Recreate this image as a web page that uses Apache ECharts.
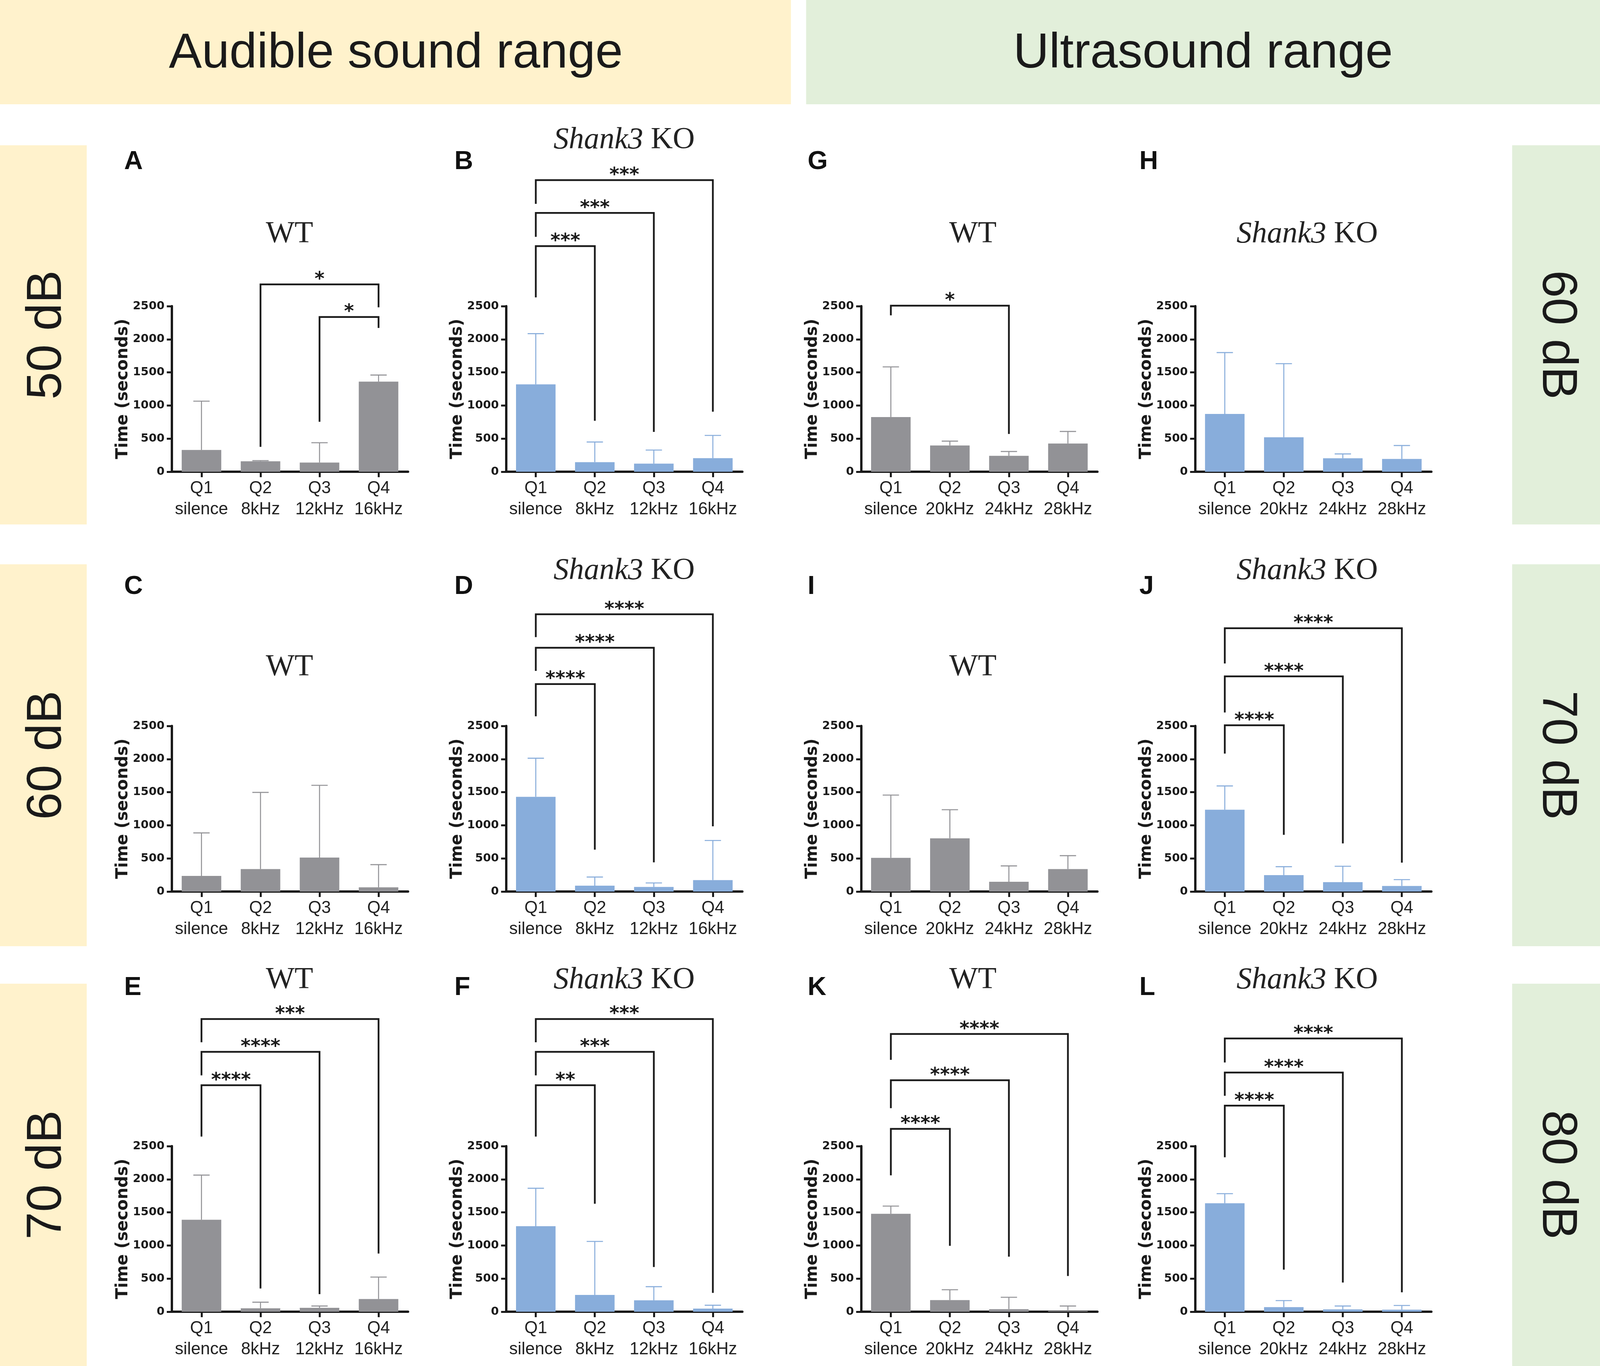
<!DOCTYPE html>
<html><head><meta charset="utf-8">
<script src="https://cdn.jsdelivr.net/npm/echarts@6/dist/echarts.min.js"></script>
<style>html,body{margin:0;padding:0;background:#fff;overflow:hidden}#c{width:100vw;height:100vh}</style>
</head><body><div id="c"></div>
<script>
// ---------- categories & axis ----------
const catAudible = ['Q1\nsilence', 'Q2\n8kHz', 'Q3\n12kHz', 'Q4\n16kHz'];
const catUltra = ['Q1\nsilence', 'Q2\n20kHz', 'Q3\n24kHz', 'Q4\n28kHz'];
const yMin = 0, yMax = 2500, yStep = 500;
const yAxisTitle = 'Time (seconds)';

// ---------- bar means (seconds) ----------
const meanA = [328, 157, 139, 1361];
const meanB = [1320, 145, 122, 205];
const meanC = [236, 339, 513, 63];
const meanD = [1430, 88, 69, 173];
const meanE = [1388, 51, 59, 191];
const meanF = [1291, 254, 172, 47];
const meanG = [826, 397, 240, 426];
const meanH = [872, 520, 203, 193];
const meanI = [509, 804, 147, 339];
const meanJ = [1235, 248, 141, 84];
const meanK = [1478, 176, 39, 10];
const meanL = [1638, 70, 35, 31];

// ---------- upper error (SD) ----------
const sdA = [738, 11, 299, 99];
const sdB = [765, 304, 205, 343];
const sdC = [649, 1158, 1091, 343];
const sdD = [583, 131, 61, 598];
const sdE = [675, 93, 27, 332];
const sdF = [573, 807, 206, 51];
const sdG = [757, 65, 66, 182];
const sdH = [927, 1112, 66, 203];
const sdI = [947, 431, 240, 203];
const sdJ = [359, 127, 241, 96];
const sdK = [117, 156, 179, 76];
const sdL = [144, 98, 51, 63];

// ---------- significance brackets: [from, to, level, leg-from end, leg-to end, label] ----------
const sigA = [[1, 3, 2828, 376, 2482, '*'], [2, 3, 2336, 755, 2172, '*']];
const sigB = [[0, 1, 3406, 2633, 769, '***'], [0, 2, 3908, 3546, 601, '***'], [0, 3, 4403, 4045, 906, '***']];
const sigC = [];
const sigD = [[0, 1, 3133, 2646, 633, '****'], [0, 2, 3681, 3332, 441, '****'], [0, 3, 4187, 3842, 985, '****']];
const sigE = [[0, 1, 3420, 2644, 351, '****'], [0, 2, 3924, 3569, 265, '****'], [0, 3, 4419, 4068, 878, '***']];
const sigF = [[0, 1, 3420, 2644, 1630, '**'], [0, 2, 3924, 3569, 675, '***'], [0, 3, 4419, 4068, 285, '***']];
const sigG = [[0, 2, 2507, 2362, 571, '*']];
const sigH = [];
const sigI = [];
const sigJ = [[0, 1, 2511, 2083, 856, '****'], [0, 2, 3249, 2703, 726, '****'], [0, 3, 3976, 3444, 436, '****']];
const sigK = [[0, 1, 2761, 2059, 995, '****'], [0, 2, 3495, 3073, 831, '****'], [0, 3, 4193, 3803, 540, '****']];
const sigL = [[0, 1, 3112, 2332, 636, '****'], [0, 2, 3612, 3261, 441, '****'], [0, 3, 4126, 3764, 293, '****']];

// ---------- texts ----------
const headerLeft = 'Audible sound range';
const headerRight = 'Ultrasound range';
const sideLeft = ['50 dB', '60 dB', '70 dB'];
const sideRight = ['60 dB', '70 dB', '80 dB'];

// ---------- colours ----------
const GRAY = '#929296';
const BLUE = '#88ADDB';
const INK = '#1a1a1a';

// ---------- panel table ----------
const panels = [
  { L: 'A', row: 0, col: 0, t: 'WT', m: meanA, s: sdA, g: sigA },
  { L: 'B', row: 0, col: 1, t: 'KO', m: meanB, s: sdB, g: sigB },
  { L: 'G', row: 0, col: 2, t: 'WT', m: meanG, s: sdG, g: sigG },
  { L: 'H', row: 0, col: 3, t: 'KO', m: meanH, s: sdH, g: sigH },
  { L: 'C', row: 1, col: 0, t: 'WT', m: meanC, s: sdC, g: sigC },
  { L: 'D', row: 1, col: 1, t: 'KO', m: meanD, s: sdD, g: sigD },
  { L: 'I', row: 1, col: 2, t: 'WT', m: meanI, s: sdI, g: sigI },
  { L: 'J', row: 1, col: 3, t: 'KO', m: meanJ, s: sdJ, g: sigJ },
  { L: 'E', row: 2, col: 0, t: 'WT', m: meanE, s: sdE, g: sigE },
  { L: 'F', row: 2, col: 1, t: 'KO', m: meanF, s: sdF, g: sigF },
  { L: 'K', row: 2, col: 2, t: 'WT', m: meanK, s: sdK, g: sigK },
  { L: 'L', row: 2, col: 3, t: 'KO', m: meanL, s: sdL, g: sigL }
];

// ---------- layout (designed for 4317 x 3498, scaled to the actual viewport) ----------
const BASE_W = 4317, BASE_H = 3498;
const SX = (window.innerWidth || BASE_W) / BASE_W;
const SY = (window.innerHeight || BASE_H) / BASE_H;
const FS = (SX + SY) / 2;
const X = v => v * SX, Y = v => v * SY, F = v => Math.round(v * FS * 10) / 10;

const gridLeft = [464, 1366, 2324, 3225];
const gridTop = [784, 1859, 2935];
const gridW = 637, gridH = 424;
const titleX = [781, 1684, 2625, 3527];
const titleY = [[600, 359, 600, 600], [1709, 1462, 1709, 1462], [2510, 2510, 2510, 2510]];
const letterX = [335, 1226, 2179, 3074];
const letterY = [415, 1503, 2530];

const chart = echarts.init(document.getElementById('c'), null, { renderer: 'canvas' });

const grids = [], xAxes = [], yAxes = [], series = [], graphics = [];
const sansBig = F(130) + 'px "Liberation Sans", Arial';

// background bands + headers
graphics.push({ type: 'rect', shape: { x: 0, y: 0, width: X(2134), height: Y(267) }, style: { fill: '#FFF2CC' }, z: -10 });
graphics.push({ type: 'rect', shape: { x: X(2175), y: 0, width: X(2142), height: Y(267) }, style: { fill: '#E2EFDA' }, z: -10 });
graphics.push({ type: 'text', x: X(1068), y: Y(138), style: { text: headerLeft, font: sansBig, fill: INK, align: 'center', verticalAlign: 'middle' } });
graphics.push({ type: 'text', x: X(3246), y: Y(138), style: { text: headerRight, font: sansBig, fill: INK, align: 'center', verticalAlign: 'middle' } });
const bandY = [[372, 1343], [1445, 2423], [2519, 3498]];
bandY.forEach((b, r) => {
  graphics.push({ type: 'rect', shape: { x: 0, y: Y(b[0]), width: X(234), height: Y(b[1] - b[0]) }, style: { fill: '#FFF2CC' }, z: -10 });
  graphics.push({ type: 'rect', shape: { x: X(4080), y: Y(b[0]), width: X(237) + 2, height: Y(b[1] - b[0]) }, style: { fill: '#E2EFDA' }, z: -10 });
  const cy = Y((b[0] + b[1]) / 2);
  graphics.push({ type: 'text', x: X(128), y: cy, rotation: Math.PI / 2, style: { text: sideLeft[r], font: sansBig, fill: INK, align: 'center', verticalAlign: 'middle' } });
  graphics.push({ type: 'text', x: X(4200), y: cy, rotation: -Math.PI / 2, style: { text: sideRight[r], font: sansBig, fill: INK, align: 'center', verticalAlign: 'middle' } });
});

panels.forEach((p, k) => {
  const color = (p.col % 2 === 0) ? GRAY : BLUE;
  const cats = p.col < 2 ? catAudible : catUltra;
  grids.push({ left: X(gridLeft[p.col]), top: Y(gridTop[p.row]), width: X(gridW), height: Y(gridH), containLabel: false });
  xAxes.push({
    gridIndex: k, type: 'category', data: cats, boundaryGap: true,
    axisLine: { show: true, lineStyle: { color: INK, width: 6 } },
    axisTick: { show: true, alignWithLabel: true, length: Y(14), lineStyle: { color: INK, width: 5 } },
    axisLabel: { margin: Y(16), fontFamily: '"Liberation Sans", Arial', fontSize: F(45), lineHeight: Y(54), color: '#222', interval: 0 }
  });
  yAxes.push({
    gridIndex: k, type: 'value', min: yMin, max: yMax, interval: yStep,
    splitLine: { show: false },
    axisLine: { show: true, lineStyle: { color: INK, width: 6 } },
    axisTick: { show: true, length: X(14), lineStyle: { color: INK, width: 5 } },
    axisLabel: { margin: X(20), fontFamily: '"DejaVu Sans"', fontWeight: 'bold', fontSize: F(30), color: INK, formatter: v => String(v) },
    name: yAxisTitle, nameLocation: 'middle', nameGap: X(104),
    nameTextStyle: { fontFamily: '"DejaVu Sans"', fontWeight: 'bold', fontSize: F(43), color: INK }
  });
  series.push({
    type: 'bar', xAxisIndex: k, yAxisIndex: k, data: p.m, barWidth: '67%',
    itemStyle: { color: color }, silent: true, z: 2
  });
  series.push({
    type: 'custom', xAxisIndex: k, yAxisIndex: k, z: 3, clip: false, silent: true,
    encode: { x: 0, y: 1 },
    data: p.m.map((v, i) => [i, v, p.s[i]]),
    renderItem: (params, api) => {
      const i = api.value(0), v = api.value(1), s = api.value(2);
      const a = api.coord([i, v]), b = api.coord([i, v + s]);
      const st = { stroke: color, lineWidth: 2.6 };
      return { type: 'group', children: [
        { type: 'line', shape: { x1: a[0], y1: a[1], x2: b[0], y2: b[1] }, style: st },
        { type: 'line', shape: { x1: b[0] - X(22), y1: b[1], x2: b[0] + X(22), y2: b[1] }, style: st }
      ] };
    }
  });
  if (p.g.length) {
    const sig = p.g;
    series.push({
      type: 'custom', xAxisIndex: k, yAxisIndex: k, z: 4, clip: false, silent: true,
      encode: { x: 0, y: 2 },
      data: sig.map(s => s.slice(0, 5)),
      renderItem: (params, api) => {
        const a = api.value(0), b = api.value(1), lv = api.value(2), la = api.value(3), lb = api.value(4);
        const pA = api.coord([a, lv]), pB = api.coord([b, lv]);
        const yA = api.coord([a, la])[1], yB = api.coord([b, lb])[1];
        return { type: 'group', children: [
          { type: 'polyline', shape: { points: [[pA[0], yA], [pA[0], pA[1]], [pB[0], pB[1]], [pB[0], yB]] },
            style: { stroke: INK, lineWidth: 4.5, fill: null, lineJoin: 'miter', lineCap: 'butt' } },
          { type: 'text', style: { text: sig[params.dataIndex][5], x: (pA[0] + pB[0]) / 2, y: pA[1] - Y(12),
            align: 'center', verticalAlign: 'middle', fill: INK, font: 'bold ' + F(50) + 'px "DejaVu Sans"' } }
        ] };
      }
    });
  }
  // panel title
  const ty = Y(titleY[p.row][p.col]);
  const serif = '"Liberation Serif", "Times New Roman", serif';
  if (p.t === 'WT') {
    graphics.push({ type: 'text', x: X(titleX[p.col]), y: ty, style: { text: 'WT', font: F(80) + 'px ' + serif, fill: '#222', align: 'center', verticalAlign: 'middle' } });
  } else {
    graphics.push({ type: 'text', x: X(titleX[p.col]), y: ty, style: {
      text: '{i|Shank3} KO', font: F(80) + 'px ' + serif, fill: '#222', align: 'center', verticalAlign: 'middle',
      rich: { i: { fontStyle: 'italic', fontFamily: serif, fontSize: F(80), fill: '#222' } } } });
  }
  graphics.push({ type: 'text', x: X(letterX[p.col]), y: Y(letterY[p.row]), style: { text: p.L, font: 'bold ' + F(68) + 'px "Liberation Sans", Arial', fill: '#111', align: 'left', verticalAlign: 'middle' } });
});

chart.setOption({
  backgroundColor: '#ffffff',
  animation: false,
  grid: grids, xAxis: xAxes, yAxis: yAxes, series: series,
  graphic: { elements: graphics }
});
window.addEventListener('resize', () => chart.resize());
</script></body></html>
